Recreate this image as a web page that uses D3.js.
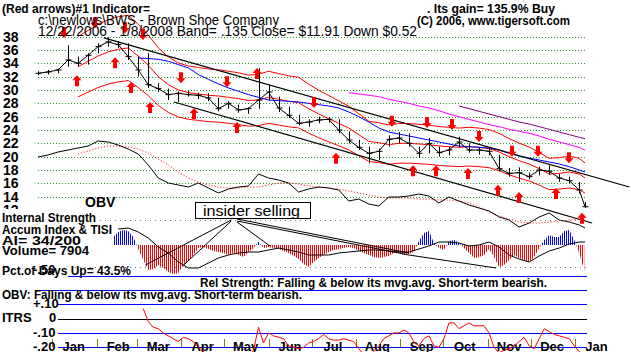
<!DOCTYPE html>
<html>
<head>
<meta charset="utf-8">
<script src="https://cdn.jsdelivr.net/npm/d3@7"></script>
<style>
  body { margin: 0; background: #fff; }
  svg { display: block; font-family: "Liberation Sans", Arial, sans-serif; }
  .b { font-weight: bold; }
</style>
</head>
<body>
<div id="chart"></div>
<script>
const parse = d3.timeParse("%Y-%m-%d");
const startDate = parse("2006-12-22");
const endDate = parse("2008-01-08");

// weekly sessions (Fridays) + last session 1/8/2008
const weeks = d3.timeFriday.range(startDate, parse("2008-01-05")).concat([endDate]);

// weekly price bars
const priceHigh = [32.8,33,33.2,36.7,35,35.5,37,37.9,37.3,37,35,35.5,31,30.2,29.8,29.9,29.6,29.5,28.8,28.3,
  27.8,27.4,33.3,30.7,29,27.5,26.3,25.6,26,25.9,25.6,23.8,22.5,21.5,21.2,23.2,23.7,23.5,21.5,22.8,
  21.5,21.5,23,22,21.4,21.3,20.3,18.3,18.4,17.6,18.5,18.7,17.4,17,16.2,13.2];
const priceLow = [32.2,32.3,32.5,33.5,33.5,33.8,35.5,36.5,36.3,34.5,32,30.3,29.7,28.5,28.2,29,28.6,28.3,26.8,27.2,
  26.6,26.4,27.2,28.4,26.7,25.8,24.7,24.5,25,25.1,23.5,22,21,19,19.5,21.5,22,21.5,19.8,20.5,
  20,20.2,21.4,20.6,20.3,20.2,17.8,17,16.2,16.6,17.2,17.3,16.2,16,14.5,12.3];
const priceClose = [32.5,32.7,33,34.5,34,35.2,36.5,37.2,36.8,35,33,30.8,30.2,29.3,29.5,29.3,29.2,28.8,27.2,28,
  27,27.2,28.5,29.7,27.3,26.2,25,25.2,25.5,25.6,24,22.5,21.4,20.5,20.8,22.6,22.8,22,20.5,22,
  20.6,21,22.2,21,21,20.8,18.2,17.5,17.6,17,18,17.8,16.8,16.4,15,12.5];

// 21-day moving average (red), bands at +/- band
const band = 0.135;
const ma21 = [null,null,null,null,33.5,34.3,35.1,35.7,36.1,36.3,35.1,33.7,32,30.8,30,29.6,29.4,29.2,29.1,28.9,
  28.7,28.4,28.5,28.9,28.6,28.3,28.1,27.2,26.4,25.7,25,24.3,23.3,22.3,22.1,21.8,22,22,21.9,21.8,
  21.6,21.5,21.4,21.5,21.4,21.2,20.7,20,19.4,18.9,18.2,17.4,17.5,17.7,17.4,16.8];
// 50-day moving average (blue)
const ma50 = [null,null,null,null,null,null,null,null,null,null,34.8,34.7,34.6,34.3,33.8,33.3,32.3,31.6,30.9,30.3,
  29.8,29.3,28.9,28.5,28.4,28.3,28.2,28,27.8,27.6,27.3,26.7,26,25.2,24.3,23.7,23.4,23.1,22.8,22.5,
  22.2,21.9,21.6,21.5,21.4,21.3,21,20.5,20.1,19.8,19.5,19.2,18.9,18.5,18,17.7];
// long averages (magenta, purple)
const maLong = [null,null,null,null,null,null,null,null,null,null,null,null,null,null,null,null,null,null,null,null,
  null,null,null,null,null,null,null,null,null,null,null,29.6,29.4,29.2,29,28.6,28.3,28,27.6,27.3,
  26.9,26.4,26,25.6,25.2,24.8,24.5,24.1,23.8,23.5,23.1,22.6,22.2,21.8,21.4,21];
const maLonger = [null,null,null,null,null,null,null,null,null,null,null,null,null,null,null,null,null,null,null,null,
  null,null,null,null,null,null,null,null,null,null,null,null,null,null,null,null,null,null,null,null,
  null,null,27.6,27.2,26.8,26.4,26,25.6,25.2,24.9,24.5,24.1,23.7,23.3,22.9,22.7];

// OBV (relative units) and its moving average
const obv = [73,75,78,80,82,84,89,88,85,81,76,65,52,47,45,43,47,42,37,41,
  43,44,56,52,50,47,38,41,43,42,40,29,31,26,24,33,33,34,36,34,
  27,33,29,25,22,19,13,10,3,7,13,17,10,8,5,2];
const obvMa = [null,null,null,null,76,79,82,84,84,83,81,77,71,65,58,52,48,45,43,42,
  42,43,43,45,47,47,46,44,43,42,41,39,37,35,33,32,32,32,31,31,
  30,30,29,27,23,18,14,11,8,7,7,8,9,10,11,10];

// TISI (weekly)
const tisi = [null,null,null,null,null,null,null,null,16,17,13,7,-2,-8,-17,-23,-23,-18,-13,-10,
  -8,-7,-7,-5,-3,-5,-7,-10,-10,-10,-8,-7,-6,-5,-5,-6,-7,-7,-4,-1,
  3,3,2,-1,0,3,-2,-10,-14,-17,-11,-6,-3,1,3,3];

// Accum Index, half-weekly from step 15
const accumStart = 15;
const accumIndex = [8,13,15,14,8,-4,-15,-25,-24,-20,-23,-27,-29,-28,-20,-16,-10,-3,-2,-4,
  -6,-7,-8,-10,-8,-10,-12,-7,-3,3,-3,-2,-3,-4,-6,-8,-11,-14,-19,-22,
  -17,-13,-10,-7,-5,-4,-3,-2,-3,-6,-8,-10,-12,-13,-12,-11,-8,-8,-10,-9,
  -7,4,12,14,2,-3,-5,4,5,2,-3,-8,-13,-12,-10,-4,-12,-22,-20,-15,
  -10,-13,-15,-17,-12,-3,5,10,8,8,14,15,5,-8,-26];

// ITRS, half-weekly from step 21
const itrsStart = 21;
const itrs = [.07,-.02,-.06,-.07,-.10,-.12,-.14,-.16,-.13,-.14,-.16,-.20,-.23,-.26,-.28,-.27,-.28,-.27,-.26,-.27,
  -.28,-.26,-.22,-.06,-.17,-.10,-.12,-.13,-.14,-.19,-.20,-.21,-.20,-.17,-.16,-.14,-.11,-.14,-.15,-.15,
  -.14,-.15,-.16,-.21,-.25,-.26,-.23,-.19,-.14,-.12,-.10,-.10,-.08,-.10,-.16,-.19,-.14,-.12,-.19,-.20,
  -.14,-.03,-.03,-.07,-.05,-.03,-.05,-.05,-.05,-.10,-.20,-.24,-.22,-.21,-.19,-.16,-.13,-.19,-.21,-.14,
  -.07,-.09,-.11,-.12,-.13,-.14,-.19,-.23,-.26];

// signal arrows (date, price at tip)
const sellArrows = [["2007-01-09",37.8],["2007-01-31",39.3],["2007-02-21",38.5],["2007-03-05",37.5],["2007-04-01",31],
  ["2007-05-03",30.4],["2007-07-03",27.3],["2007-08-26",24.5],["2007-09-20",24.3],["2007-10-07",24],
  ["2007-10-26",22.2],["2007-11-18",20],["2007-12-06",20],["2007-12-28",19]];
const buyArrows = [["2007-01-18",32.2],["2007-02-14",34.9],["2007-02-25",31.2],["2007-03-10",28.2],["2007-04-10",27.3],
  ["2007-05-10",25.2],["2007-05-24",33.3],["2007-07-18",20.6],["2007-09-10",18.7],["2007-09-26",18.7],
  ["2007-10-18",18.3],["2007-11-08",15.8],["2007-11-23",14.7],["2007-12-19",15.3],["2008-01-06",11.6]];

// trend lines (price)
const priceTrends = [[["2007-02-06",37.8],["2008-02-08",15.45]], [["2007-03-27",28.2],["2008-01-13",10.06]]];
// trend lines (accum index)
const accumTrends = [[["2007-03-07",-20],["2007-05-06",25]], [["2007-04-02",-21],["2007-05-06",24]],
  [["2007-05-10",26],["2007-09-07",-8]], [["2007-05-10",24],["2007-09-07",-10]],
  [["2007-05-10",23],["2007-06-02",-1]], [["2007-09-07",-10],["2007-11-07",-23]]];

const priceTicks = d3.range(14, 40, 2);
const monthNames = ["Jan","Feb","Mar","Apr","May","Jun","Jul","Aug","Sep","Oct","Nov","Dec","Jan"];

const W = 631, H = 352;
const svg = d3.select("#chart").append("svg").attr("width", W).attr("height", H);
const defs = svg.append("defs");

const x = d3.scaleTime().domain([startDate, endDate]).range([38, 585]);
const y = d3.scaleLinear().domain([14, 38]).range([196.7, 36.6]);
const obvY = d3.scaleLinear().domain([0, 100]).range([230, 130]);
const aiY = d3.scaleLinear().domain([-30, 30]).range([275, 215]);
const itrsY = d3.scaleLinear().domain([-0.2, 0.1]).range([347.3, 304.3]);
const halfWeek = k => d3.timeHour.offset(startDate, 84 * k);

// price gridlines
svg.append("g").selectAll("line").data(priceTicks).join("line")
  .attr("x1", 38).attr("x2", 587).attr("y1", d => Math.round(y(d)) + 0.5).attr("y2", d => Math.round(y(d)) + 0.5)
  .attr("stroke", "#2a982a").attr("stroke-dasharray", "1,2");
svg.append("g").selectAll("text").data(priceTicks).join("text").attr("class", "b")
  .attr("x", 3).attr("y", d => y(d) + 5).attr("font-size", 14).text(d => d);
defs.append("clipPath").attr("id", "cut12").append("rect").attr("x", 0).attr("y", 0).attr("width", 40).attr("height", 209);
svg.append("text").attr("class", "b").attr("x", 3).attr("y", y(12) + 5).attr("font-size", 14)
  .attr("clip-path", "url(#cut12)").text(12);

const lineGen = (yScale) => d3.line().defined(d => d[1] != null).x(d => x(d[0])).y(d => yScale(d[1]));
const weekly = arr => weeks.map((t, i) => [t, arr[i]]);

// long averages
svg.append("path").attr("d", lineGen(y)(weekly(maLong))).attr("fill", "none").attr("stroke", "#ff00ff");
svg.append("path").attr("d", lineGen(y)(weekly(maLonger))).attr("fill", "none").attr("stroke", "#800080");

// bands
[1 + band, 1, 1 - band].forEach(f => {
  svg.append("path").attr("d", lineGen(y)(weekly(ma21.map(v => v == null ? null : v * f))))
    .attr("fill", "none").attr("stroke", "#ff0000");
});
svg.append("path").attr("d", lineGen(y)(weekly(ma50))).attr("fill", "none").attr("stroke", "#0000ff");

// trend lines
priceTrends.forEach(tl => {
  svg.append("path").attr("d", lineGen(y)(tl.map(d => [parse(d[0]), d[1]])))
    .attr("fill", "none").attr("stroke", "#000").attr("stroke-width", 1.2);
});

// price bars
const bars = svg.append("g").attr("stroke", "#000");
weeks.forEach((t, i) => {
  const px = Math.round(x(t)) + 0.5;
  bars.append("line").attr("x1", px).attr("x2", px).attr("y1", y(priceHigh[i])).attr("y2", y(priceLow[i]));
  bars.append("line").attr("x1", px - 3).attr("x2", px + 3).attr("y1", y(priceClose[i])).attr("y2", y(priceClose[i]));
});
svg.append("path").attr("d", lineGen(y)(weekly(priceClose))).attr("fill", "none").attr("stroke", "#000");

// arrows
const arrowD = "M0,0L-4.5,-5L-2,-5L-2,-11L2,-11L2,-5L4.5,-5Z";
svg.append("g").selectAll("path.s").data(sellArrows).join("path")
  .attr("d", arrowD).attr("fill", "#ff0000")
  .attr("transform", d => `translate(${Math.round(x(parse(d[0])))},${y(d[1])})`);
svg.append("g").selectAll("path.u").data(buyArrows).join("path")
  .attr("d", arrowD).attr("fill", "#ff0000")
  .attr("transform", d => `translate(${Math.round(x(parse(d[0])))},${y(d[1])}) scale(1,-1)`);

// OBV
svg.append("path").attr("d", lineGen(obvY)(weekly(obvMa))).attr("fill", "none")
  .attr("stroke", "#ff0000").attr("stroke-dasharray", "1,2");
svg.append("path").attr("d", lineGen(obvY)(weekly(obv))).attr("fill", "none").attr("stroke", "#000");
svg.append("text").attr("class", "b").attr("x", 85).attr("y", 207).attr("font-size", 14).text("OBV");

// accum panel
svg.append("line").attr("x1", 100).attr("x2", 587).attr("y1", 220.5).attr("y2", 220.5)
  .attr("stroke", "#777").attr("stroke-dasharray", "1,4");
svg.append("line").attr("x1", 75).attr("x2", 587).attr("y1", 267.5).attr("y2", 267.5)
  .attr("stroke", "#777").attr("stroke-dasharray", "1,4");
function stripes(id, color) {
  defs.append("pattern").attr("id", id).attr("width", 2).attr("height", 4).attr("patternUnits", "userSpaceOnUse")
    .append("rect").attr("width", 1).attr("height", 4).attr("fill", color).attr("shape-rendering", "crispEdges");
}
stripes("redStripes", "#ff0000");
stripes("blueStripes", "#0000ff");
defs.append("clipPath").attr("id", "aboveZero").append("rect")
  .attr("x", 0).attr("y", 0).attr("width", W).attr("height", aiY(0));
defs.append("clipPath").attr("id", "belowZero").append("rect")
  .attr("x", 0).attr("y", aiY(0)).attr("width", W).attr("height", H - aiY(0));
const aiPts = accumIndex.map((v, i) => [halfWeek(accumStart + i), v]);
const aiArea = d3.area().x(d => x(d[0])).y0(aiY(0)).y1(d => aiY(d[1]));
svg.append("path").attr("d", aiArea(aiPts)).attr("fill", "url(#blueStripes)").attr("clip-path", "url(#aboveZero)");
svg.append("path").attr("d", aiArea(aiPts)).attr("fill", "url(#redStripes)").attr("clip-path", "url(#belowZero)");
svg.append("path").attr("d", lineGen(aiY)(weekly(tisi))).attr("fill", "none").attr("stroke", "#000");
accumTrends.forEach(tl => {
  svg.append("path").attr("d", lineGen(aiY)(tl.map(d => [parse(d[0]), d[1]])))
    .attr("fill", "none").attr("stroke", "#000");
});

// insider selling box
svg.append("rect").attr("x", 195.5).attr("y", 202.5).attr("width", 115).attr("height", 16)
  .attr("fill", "#fff").attr("stroke", "#000");
svg.append("text").attr("x", 203).attr("y", 216).attr("font-size", 15)
  .attr("textLength", 97).attr("lengthAdjust", "spacingAndGlyphs").text("insider selling");

// panel lines
svg.append("line").attr("x1", 68).attr("x2", 587).attr("y1", 276.5).attr("y2", 276.5).attr("stroke", "#0000ff");
svg.append("line").attr("x1", 35).attr("x2", 587).attr("y1", 290.5).attr("y2", 290.5).attr("stroke", "#0000ff");
[[0.1, "#0000ff"], [0, "#000"], [-0.1, "#0000ff"], [-0.2, "#0000ff"]].forEach(([v, c]) => {
  const yy = Math.round(itrsY(v)) + 0.5;
  svg.append("line").attr("x1", 58).attr("x2", 587).attr("y1", yy).attr("y2", yy).attr("stroke", c);
});

// month ticks and labels
const months = d3.timeMonth.range(parse("2007-01-01"), parse("2008-01-02"));
svg.append("g").selectAll("line").data(months).join("line")
  .attr("x1", d => Math.round(x(d)) + 0.5).attr("x2", d => Math.round(x(d)) + 0.5)
  .attr("y1", 339).attr("y2", 347).attr("stroke", "#808000");
svg.append("g").selectAll("text").data(months).join("text").attr("class", "b")
  .attr("x", d => x(d3.timeDay.offset(d, 15))).attr("y", 351).attr("font-size", 13)
  .attr("text-anchor", "middle").text((d, i) => monthNames[i]);

// ITRS line
defs.append("clipPath").attr("id", "itrsClip").append("rect").attr("x", 0).attr("y", 296).attr("width", W).attr("height", 56);
svg.append("path").attr("d", lineGen(itrsY)(itrs.map((v, i) => [halfWeek(itrsStart + i), v])))
  .attr("fill", "none").attr("stroke", "#ff0000").attr("clip-path", "url(#itrsClip)");

// texts
const txt = (s, xx, yy, opts = {}) => {
  const t = svg.append("text").attr("x", xx).attr("y", yy).attr("font-size", opts.size || 13).text(s);
  if (opts.bold !== false) t.attr("class", "b");
  if (opts.len) t.attr("textLength", opts.len).attr("lengthAdjust", "spacingAndGlyphs");
  return t;
};
txt("(Red arrows)#1 Indicator=", 2, 13, { len: 148 });
txt("c:\\newlows\\BWS  -  Brown Shoe Company", 38, 25, { bold: false, size: 14, len: 241 });
txt("12/22/2006 - 1/8/2008  Band= .135  Close= $11.91  Down $0.52", 38, 36, { bold: false, size: 14, len: 379 });
txt(". Its gain= 135.9% Buy", 427, 13, { len: 128 });
txt("(C) 2006, www.tigersoft.com", 417, 25, { len: 153 });
txt("Internal Strength", 2, 222, { len: 94 });
txt("Accum Index & TISI", 2, 234, { len: 110 });
txt("AI= 34/200", 2, 245, { len: 79 });
txt("Volume= 7904", 2, 255, { len: 87 });
txt("Pct.of Days Up= 43.5%", 2, 275, { len: 129 });
txt("-.50", 33, 274);
txt("Rel Strength: Falling & below its mvg.avg. Short-term bearish.", 200, 287, { len: 347 });
txt("OBV: Falling & below its mvg.avg. Short-term bearish.", 2, 299, { len: 300 });
txt("+.10", 33, 308);
txt("ITRS", 2, 322);
txt("0", 49, 322);
txt("-.10", 33, 337);
txt("-.20", 33, 351);
</script>
</body>
</html>
